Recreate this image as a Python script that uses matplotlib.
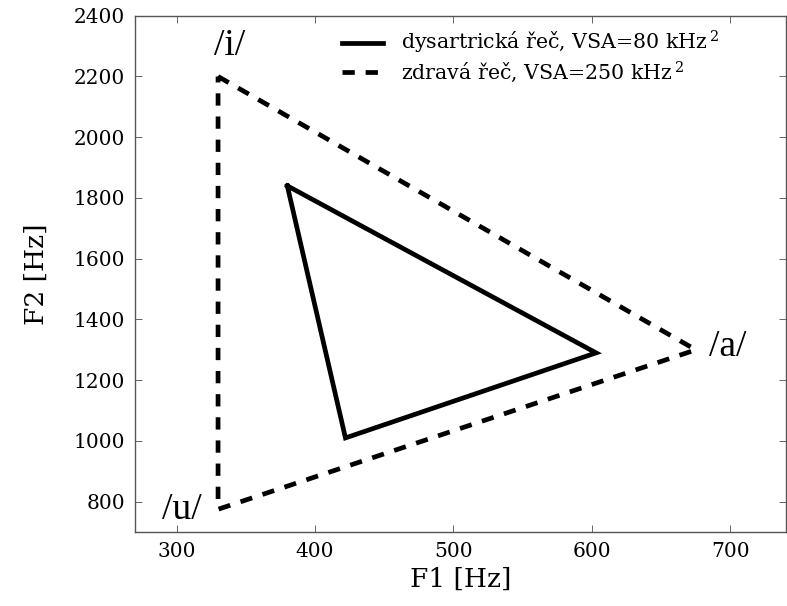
import matplotlib
matplotlib.use("Agg")
import matplotlib.pyplot as plt

# Vowel triangle corners (F1, F2) in Hz, order /i/, /a/, /u/
dys_f1 = [380, 603, 422]
dys_f2 = [1840, 1290, 1010]
zdr_f1 = [330, 675, 330]
zdr_f2 = [2200, 1300, 775]

dys_label = "dysartrická řeč, VSA=80 kHz$\\,^2$"
zdr_label = "zdravá řeč, VSA=250 kHz$\\,^2$"

vowels = ["/i/", "/a/", "/u/"]
vowel_f1 = [338, 698, 304]
vowel_f2 = [2300, 1310, 772]

plt.rcParams["font.family"] = ["DejaVu Serif"]
plt.rcParams["mathtext.fontset"] = "dejavuserif"

fig = plt.figure(figsize=(7.87, 6.06), dpi=100)
ax = fig.add_axes([0.1715, 0.122, 0.827, 0.852])

lw = 3.4
dash = (0, (2.6, 2.3))
ax.plot(dys_f1 + dys_f1[:1], dys_f2 + dys_f2[:1], color="black", lw=lw,
        solid_joinstyle="miter", label=dys_label)
ax.plot(zdr_f1 + zdr_f1[:1], zdr_f2 + zdr_f2[:1], color="black", lw=lw,
        linestyle=dash, label=zdr_label)

for name, x, y in zip(vowels, vowel_f1, vowel_f2):
    ax.text(x, y, name, ha="center", va="center", fontsize=27,
            family="Liberation Serif")

ax.set_xlim(270, 740)
ax.set_ylim(700, 2400)
ax.set_xticks([300, 400, 500, 600, 700])
ax.set_yticks(range(800, 2401, 200))
ax.tick_params(direction="in", top=True, right=True, length=5, width=0.7,
               color="#666666", labelsize=14.5, pad=7)
for sp in ax.spines.values():
    sp.set_color("#555555")
    sp.set_linewidth(1.0)

ax.set_xlabel("F1 [Hz]", fontsize=19, labelpad=4)
ax.set_ylabel("F2 [Hz]", fontsize=19, labelpad=18)

ax.legend(loc="upper left", frameon=False, fontsize=14.8, handlelength=2.0,
          handletextpad=0.9, labelspacing=0.15, borderaxespad=0,
          bbox_to_anchor=(0.305, 0.99))

fig.savefig("out.png", dpi=100)
